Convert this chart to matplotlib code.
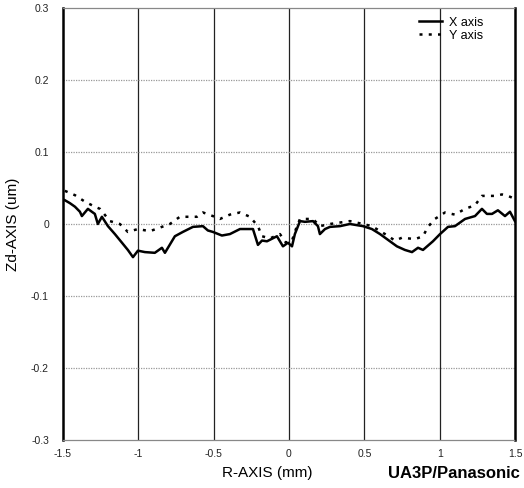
#!/usr/bin/env python3
"""Zd profile along R axis - X and Y scan of the surface."""

import matplotlib
matplotlib.use("Agg")
import matplotlib.pyplot as plt

# X axis scan (solid)
x_r = [-1.487, -1.454, -1.420, -1.387, -1.374, -1.334, -1.308, -1.288, -1.268, -1.241,
       -1.201, -1.155, -1.108, -1.069, -1.035, -1.002, -0.956, -0.890, -0.843, -0.823,
       -0.757, -0.704, -0.637, -0.571, -0.538, -0.505, -0.445, -0.392, -0.325, -0.239,
       -0.206, -0.179, -0.146, -0.080, -0.040, -0.007, 0.020, 0.039, 0.073, 0.106,
       0.159, 0.192, 0.205, 0.239, 0.272, 0.338, 0.404, 0.491, 0.550, 0.604,
       0.650, 0.716, 0.769, 0.816, 0.856, 0.889, 0.955, 1.002, 1.055, 1.101,
       1.168, 1.234, 1.280, 1.313, 1.347, 1.386, 1.433, 1.466, 1.499]
x_zd = [0.033, 0.029, 0.024, 0.017, 0.011, 0.021, 0.017, 0.014, 0.000, 0.010,
        -0.003, -0.014, -0.026, -0.036, -0.046, -0.037, -0.039, -0.040, -0.033, -0.040,
        -0.017, -0.011, -0.004, -0.003, -0.009, -0.011, -0.016, -0.014, -0.007, -0.007,
        -0.029, -0.023, -0.024, -0.017, -0.031, -0.026, -0.031, -0.014, 0.004, 0.003,
        0.004, -0.003, -0.014, -0.007, -0.004, -0.003, 0.000, -0.003, -0.007, -0.014,
        -0.021, -0.031, -0.036, -0.039, -0.033, -0.036, -0.024, -0.014, -0.004, -0.003,
        0.007, 0.011, 0.021, 0.014, 0.014, 0.019, 0.011, 0.017, 0.004]

# Y axis scan (dotted)
y_r = [-1.487, -1.420, -1.354, -1.288, -1.254, -1.188, -1.122, -1.069, -1.002, -0.923,
       -0.843, -0.790, -0.724, -0.611, -0.571, -0.505, -0.458, -0.392, -0.325, -0.259,
       -0.206, -0.179, -0.126, -0.060, -0.020, 0.020, 0.046, 0.073, 0.159, 0.205,
       0.272, 0.404, 0.491, 0.550, 0.637, 0.703, 0.750, 0.836, 0.889, 0.922,
       0.968, 1.035, 1.101, 1.168, 1.234, 1.280, 1.367, 1.413, 1.453, 1.486]
y_zd = [0.046, 0.040, 0.031, 0.024, 0.021, 0.004, 0.000, -0.011, -0.007, -0.010,
        -0.004, 0.000, 0.010, 0.010, 0.016, 0.011, 0.007, 0.013, 0.016, 0.010,
        -0.003, -0.017, -0.020, -0.014, -0.026, -0.023, -0.007, 0.007, 0.007, -0.003,
        0.000, 0.004, 0.000, -0.003, -0.014, -0.023, -0.019, -0.021, -0.017, -0.004,
        0.007, 0.016, 0.013, 0.021, 0.026, 0.039, 0.039, 0.041, 0.039, 0.036]

x_ticks = [-1.5, -1, -0.5, 0, 0.5, 1, 1.5]
x_tick_labels = ["-1.5", "-1", "-0.5", "0", "0.5", "1", "1.5"]
y_ticks = [-0.3, -0.2, -0.1, 0, 0.1, 0.2, 0.3]
y_tick_labels = ["-0.3", "-0.2", "-0.1", "0", "0.1", "0.2", "0.3"]

plt.rcParams['font.family'] = ['Liberation Sans', 'DejaVu Sans']

fig = plt.figure(figsize=(5.24, 4.88), dpi=100)
ax = fig.add_axes([0.120, 0.098, 0.863, 0.886])

ax.plot(x_r, x_zd, color='black', lw=1.8, label='X axis')
ax.plot(y_r, y_zd, color='black', lw=1.8, ls=(0, (1.2, 2.5)), label='Y axis')

ax.set_xlim(-1.5, 1.5)
ax.set_ylim(-0.3, 0.3)
ax.set_xticks(x_ticks)
ax.set_xticklabels(x_tick_labels)
ax.set_yticks(y_ticks)
ax.set_yticklabels(y_tick_labels)
ax.tick_params(length=0, labelsize=7.5, colors='#222222')
ax.tick_params(axis='y', pad=10)
ax.tick_params(axis='x', pad=6)

# grid: solid verticals, faint dotted horizontals
for xv in x_ticks[1:-1]:
    ax.axvline(xv, color='#222222', lw=0.9, zorder=0)
for yv in y_ticks[1:-1]:
    ax.axhline(yv, color='#999999', lw=0.9, ls=(0, (1, 1)), zorder=0)

for side in ['left', 'right']:
    ax.spines[side].set_linewidth(1.8)
    ax.spines[side].set_color('black')
for side in ['top', 'bottom']:
    ax.spines[side].set_linewidth(0.9)
    ax.spines[side].set_color('#888888')
    ax.spines[side].set_linestyle((0, (1, 1)))

ax.set_ylabel('Zd-AXIS (um)', fontsize=11, labelpad=8)
fig.text(0.51, 0.03, 'R-AXIS (mm)', fontsize=11, ha='center', va='center')
fig.text(0.993, 0.03, 'UA3P/Panasonic', fontsize=12, ha='right', va='center',
         fontweight='bold')

ax.legend(loc='upper right', bbox_to_anchor=(0.95, 1.0), frameon=False, fontsize=9,
          handlelength=1.8, handletextpad=0.6, labelspacing=0.1, borderaxespad=0.3)

fig.savefig('out.png', dpi=100, facecolor='white')
